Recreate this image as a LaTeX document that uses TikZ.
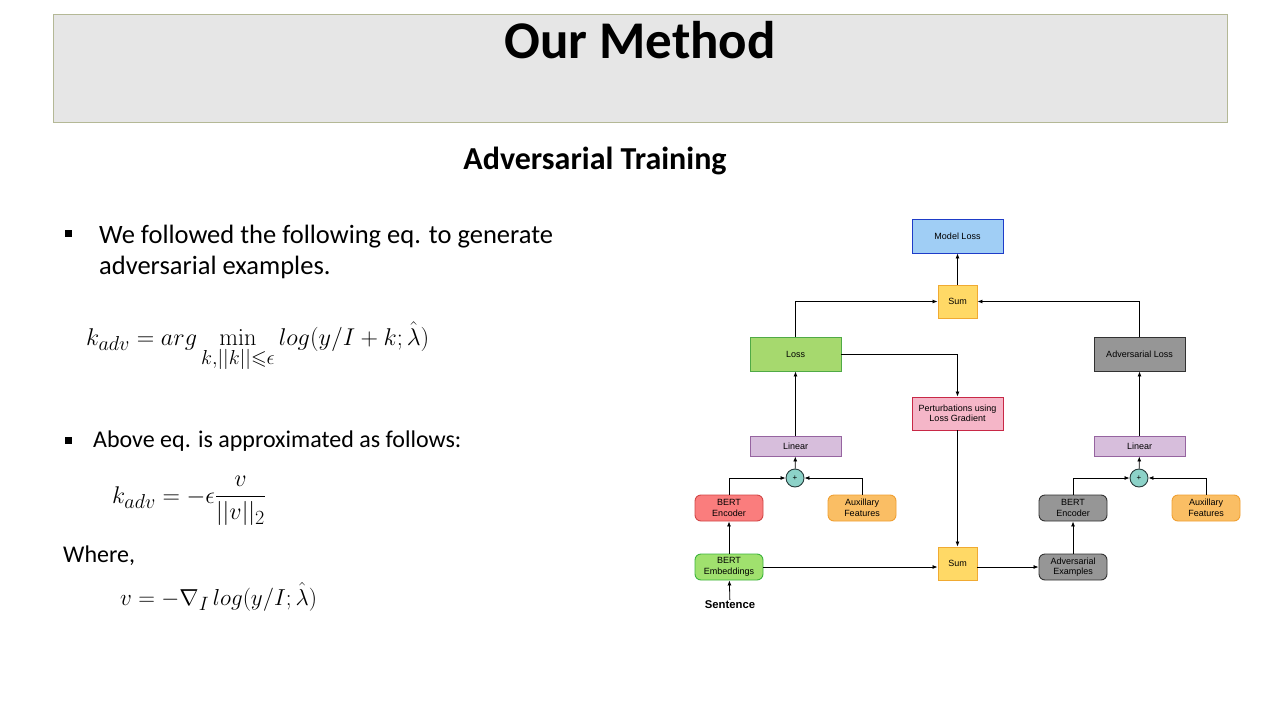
\documentclass[tikz,border=0pt]{standalone}
\usepackage{amsmath,amssymb,graphicx}
\usepackage[no-math]{fontspec}
\setmainfont{Carlito}
\newfontfamily\arialf{Liberation Sans}
\usetikzlibrary{arrows.meta}
\definecolor{titlefill}{RGB}{230,230,230}
\definecolor{titleline}{RGB}{180,184,150}
\definecolor{mfill}{RGB}{160,206,245}\definecolor{mline}{RGB}{30,60,200}
\definecolor{sfill}{RGB}{255,217,102}\definecolor{sline}{RGB}{240,170,50}
\definecolor{lfill}{RGB}{166,217,110}\definecolor{lline}{RGB}{80,170,70}
\definecolor{gfill}{RGB}{150,150,150}\definecolor{gline}{RGB}{50,50,50}
\definecolor{pfill}{RGB}{245,182,200}\definecolor{pline}{RGB}{200,40,70}
\definecolor{vfill}{RGB}{215,190,220}\definecolor{vline}{RGB}{150,100,160}
\definecolor{cfill}{RGB}{140,210,200}\definecolor{cline}{RGB}{40,60,60}
\definecolor{efill}{RGB}{250,125,125}\definecolor{eline}{RGB}{210,70,70}
\definecolor{afill}{RGB}{250,190,100}\definecolor{aline}{RGB}{240,160,50}
\definecolor{bfill}{RGB}{160,225,110}\definecolor{bline}{RGB}{60,180,60}
\tikzset{
  box/.style={draw, line width=0.9pt, align=center, inner sep=1pt,
    font=\arialf\fontsize{9}{10.5}\selectfont},
  wide/.style={box, minimum width=91pt, minimum height=34pt},
  thin/.style={box, minimum width=91pt, minimum height=20pt},
  small/.style={box, minimum width=39pt, minimum height=33pt},
  rbox/.style={box, rounded corners=6pt, minimum width=68pt, minimum height=26pt},
  plus/.style={draw, circle, line width=0.9pt, fill=cfill, draw=cline, minimum size=18pt, inner sep=0pt, font=\arialf\fontsize{8}{9}\selectfont},
  arr/.style={line width=0.8pt, -{Latex[length=5pt,width=4pt]}},
  slide/.style={anchor=base west, inner sep=0pt, font=\fontsize{26.5}{30}\selectfont},
  eqn/.style={anchor=base west, inner sep=0pt, font=\fontsize{24.88}{30}\selectfont},
  bullet/.style={fill=black, minimum size=7pt, inner sep=0pt}
}
\begin{document}
\begin{tikzpicture}[x=1pt,y=-1pt]
\useasboundingbox (0,0) rectangle (1280,720);
\fill[white] (0,0) rectangle (1280,720);
% title bar
\draw[fill=titlefill, draw=titleline, line width=0.8pt] (53,14) rectangle (1227,122);
\node[anchor=base, inner sep=0pt, font=\bfseries\fontsize{53}{58}\selectfont] (title) at (640,58) {Our Method};
\node[anchor=base, inner sep=0pt, font=\bfseries\fontsize{32}{36}\selectfont] (sub) at (595,169) {Adversarial Training};
% left text
\node[bullet] (b1) at (68,233) {};
\node[slide] (t1) at (99,243) {We followed the following eq. to generate};
\node[slide] (t2) at (99,274) {adversarial examples.};
\node[eqn] (eq1) at (86,345)
  {\scalebox{0.975}{$\displaystyle k_{adv} = arg \min_{k,||k||\leqslant\epsilon} log(y/I+k;\hat{\lambda})$}};
\node[bullet] (b2) at (68,440) {};
\node[slide, font=\fontsize{24}{28}\selectfont] (t3) at (93,447) {Above eq. is approximated as follows:};
\node[eqn] (eq2) at (112,503)
  {\scalebox{0.97}{$\displaystyle k_{adv} = -\epsilon\frac{v}{||v||_2}$}};
\node[slide, font=\fontsize{24}{28}\selectfont] (t4) at (63,562) {Where,};
\node[eqn] (eq3) at (120,605)
  {\scalebox{0.93}{$v = -\nabla_I\, log(y/I;\hat{\lambda})$}};
% diagram nodes
\node[wide, fill=mfill, draw=mline] (model) at (957.5,236) {Model Loss};
\node[small, fill=sfill, draw=sline] (sumT) at (957.5,301.5) {Sum};
\node[wide, fill=lfill, draw=lline] (loss) at (795.5,354) {Loss};
\node[wide, fill=gfill, draw=gline] (advloss) at (1139.5,354) {Adversarial Loss};
\node[wide, minimum height=33pt, fill=pfill, draw=pline] (pert) at (957.5,413.5) {Perturbations using\\Loss Gradient};
\node[thin, fill=vfill, draw=vline] (linL) at (795.5,446) {Linear};
\node[thin, fill=vfill, draw=vline] (linR) at (1139.5,446) {Linear};
\node[plus] (plusL) at (795,478) {+};
\node[plus] (plusR) at (1139,478) {+};
\node[rbox, fill=efill, draw=eline] (encL) at (729,508) {BERT\\Encoder};
\node[rbox, fill=afill, draw=aline] (auxL) at (862,508) {Auxillary\\Features};
\node[rbox, fill=bfill, draw=bline] (emb) at (729,567) {BERT\\Embeddings};
\node[inner sep=1pt, font=\arialf\bfseries\fontsize{11.3}{13}\selectfont] (sent) at (730,605) {Sentence};
\node[small, fill=sfill, draw=sline] (sumB) at (957.5,563.5) {Sum};
\node[rbox, fill=gfill, draw=gline] (encR) at (1073,508) {BERT\\Encoder};
\node[rbox, fill=afill, draw=aline] (auxR) at (1206,508) {Auxillary\\Features};
\node[rbox, fill=gfill, draw=gline] (advex) at (1073,567) {Adversarial\\Examples};
% connectors
\draw[arr] (sumT) -- (model);
\draw[arr] (loss.north) |- (sumT.west);
\draw[arr] (advloss.north) |- (sumT.east);
\draw[arr] (loss.east) -| (pert.north);
\draw[arr] (pert) -- (sumB);
\draw[arr] (linL) -- (loss);
\draw[arr] (plusL) -- (linL);
\draw[arr] (encL.north) |- (plusL.west);
\draw[arr] (auxL.north) |- (plusL.east);
\draw[arr] (emb) -- (encL);
\draw[arr] (sent) -- (emb);
\draw[arr] (emb.east) -- (emb.east -| sumB.west);
\draw[arr] (advex.west -| sumB.east) -- (advex.west);
\draw[arr] (advex) -- (encR);
\draw[arr] (encR.north) |- (plusR.west);
\draw[arr] (auxR.north) |- (plusR.east);
\draw[arr] (plusR) -- (linR);
\draw[arr] (linR) -- (advloss);
\end{tikzpicture}
\end{document}
